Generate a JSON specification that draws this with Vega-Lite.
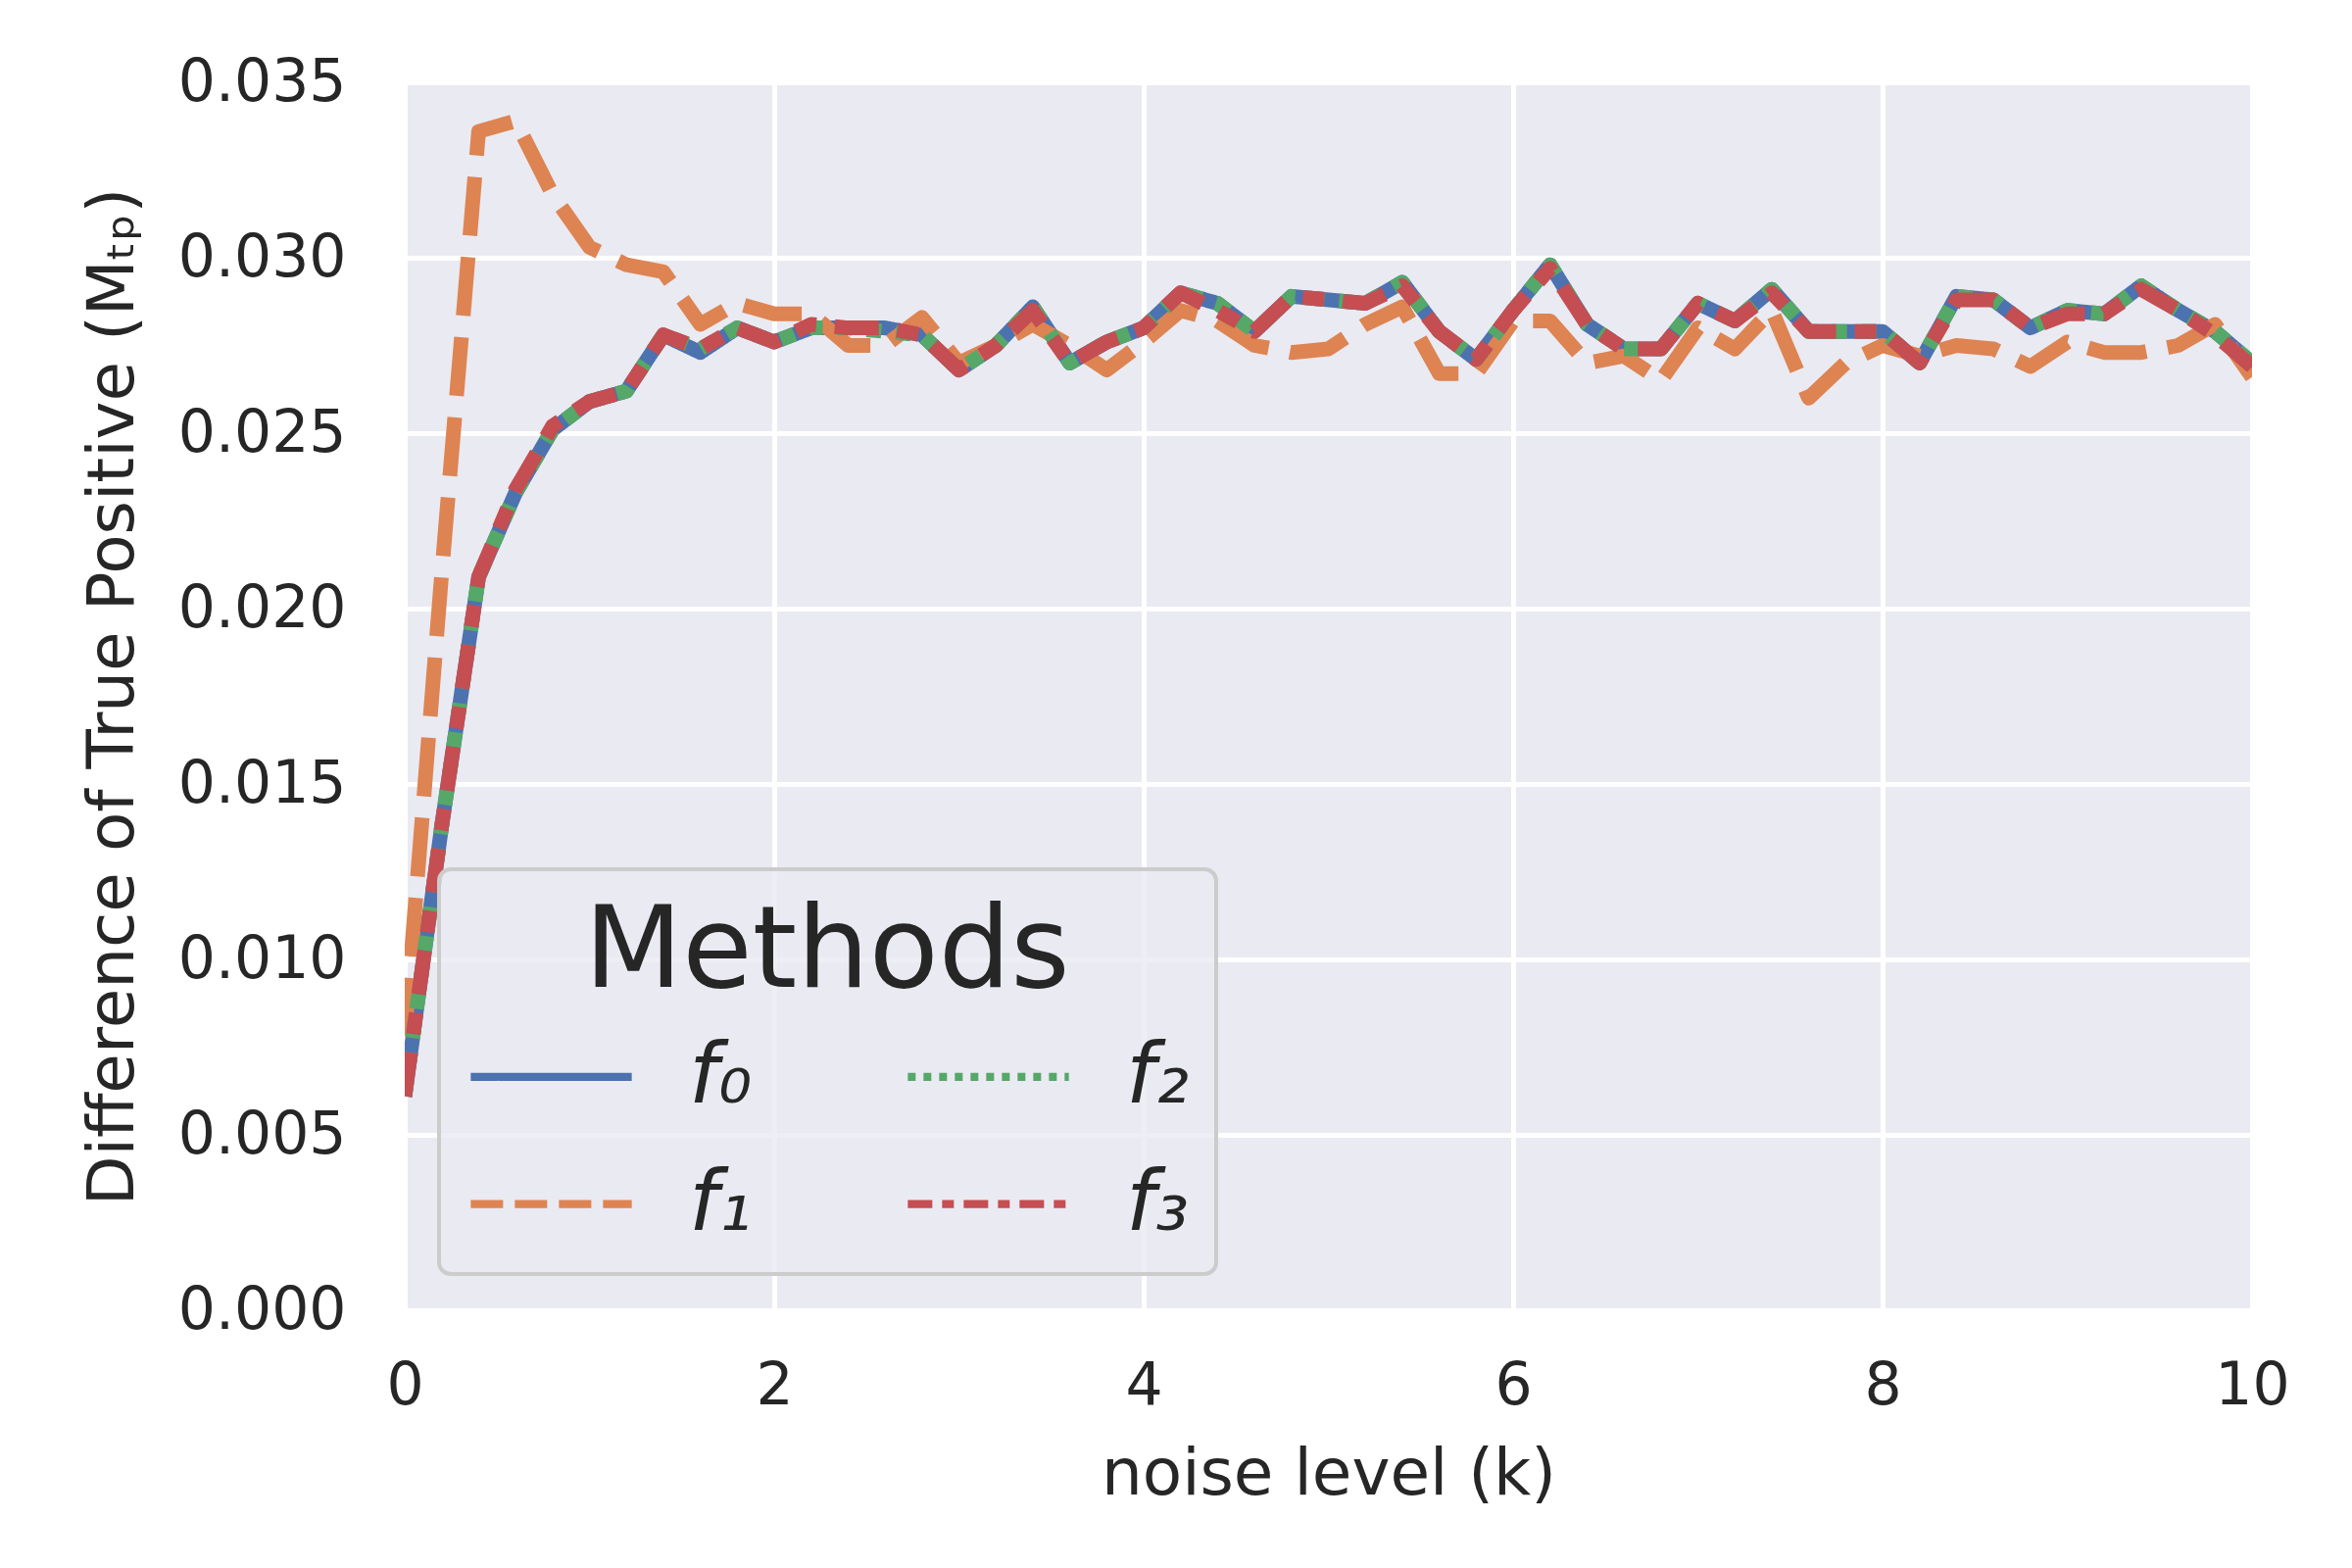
{
  "$schema": "https://vega.github.io/schema/vega-lite/v6.json",
  "width": 1885,
  "height": 1253,
  "autosize": {"type": "none"},
  "padding": {"left": 413, "top": 84, "right": 102, "bottom": 263},
  "background": "white",
  "data": {
    "values": [
      {"k": 0.0, "f0": 0.0061, "f1": 0.0078, "f2": 0.0061, "f3": 0.0061},
      {"k": 0.2, "f0": 0.0138, "f1": 0.0210, "f2": 0.0138, "f3": 0.0138},
      {"k": 0.4, "f0": 0.0209, "f1": 0.0336, "f2": 0.0209, "f3": 0.0209},
      {"k": 0.6, "f0": 0.0233, "f1": 0.0339, "f2": 0.0233, "f3": 0.0234},
      {"k": 0.8, "f0": 0.0251, "f1": 0.0318, "f2": 0.0251, "f3": 0.0252},
      {"k": 1.0, "f0": 0.0259, "f1": 0.0303, "f2": 0.0259, "f3": 0.0259},
      {"k": 1.2, "f0": 0.0262, "f1": 0.0298, "f2": 0.0262, "f3": 0.0262},
      {"k": 1.4, "f0": 0.0278, "f1": 0.0296, "f2": 0.0278, "f3": 0.0278},
      {"k": 1.6, "f0": 0.0273, "f1": 0.0281, "f2": 0.0274, "f3": 0.0274},
      {"k": 1.8, "f0": 0.0280, "f1": 0.0287, "f2": 0.0280, "f3": 0.0280},
      {"k": 2.0, "f0": 0.0276, "f1": 0.0284, "f2": 0.0276, "f3": 0.0276},
      {"k": 2.2, "f0": 0.0280, "f1": 0.0284, "f2": 0.0280, "f3": 0.0281},
      {"k": 2.4, "f0": 0.0280, "f1": 0.0275, "f2": 0.0280, "f3": 0.0280},
      {"k": 2.6, "f0": 0.0280, "f1": 0.0275, "f2": 0.0279, "f3": 0.0280},
      {"k": 2.8, "f0": 0.0278, "f1": 0.0283, "f2": 0.0278, "f3": 0.0278},
      {"k": 3.0, "f0": 0.0268, "f1": 0.0270, "f2": 0.0268, "f3": 0.0268},
      {"k": 3.2, "f0": 0.0275, "f1": 0.0275, "f2": 0.0275, "f3": 0.0275},
      {"k": 3.4, "f0": 0.0286, "f1": 0.0281, "f2": 0.0286, "f3": 0.0285},
      {"k": 3.6, "f0": 0.0270, "f1": 0.0275, "f2": 0.0270, "f3": 0.0270},
      {"k": 3.8, "f0": 0.0276, "f1": 0.0268, "f2": 0.0276, "f3": 0.0276},
      {"k": 4.0, "f0": 0.0280, "f1": 0.0276, "f2": 0.0280, "f3": 0.0280},
      {"k": 4.2, "f0": 0.0290, "f1": 0.0285, "f2": 0.0290, "f3": 0.0290},
      {"k": 4.4, "f0": 0.0287, "f1": 0.0282, "f2": 0.0287, "f3": 0.0285},
      {"k": 4.6, "f0": 0.0279, "f1": 0.0275, "f2": 0.0279, "f3": 0.0279},
      {"k": 4.8, "f0": 0.0289, "f1": 0.0273, "f2": 0.0289, "f3": 0.0289},
      {"k": 5.0, "f0": 0.0288, "f1": 0.0274, "f2": 0.0288, "f3": 0.0288},
      {"k": 5.2, "f0": 0.0287, "f1": 0.0281, "f2": 0.0287, "f3": 0.0287},
      {"k": 5.4, "f0": 0.0293, "f1": 0.0286, "f2": 0.0293, "f3": 0.0292},
      {"k": 5.6, "f0": 0.0279, "f1": 0.0267, "f2": 0.0279, "f3": 0.0279},
      {"k": 5.8, "f0": 0.0271, "f1": 0.0267, "f2": 0.0271, "f3": 0.0271},
      {"k": 6.0, "f0": 0.0285, "f1": 0.0282, "f2": 0.0285, "f3": 0.0285},
      {"k": 6.2, "f0": 0.0298, "f1": 0.0282, "f2": 0.0298, "f3": 0.0297},
      {"k": 6.4, "f0": 0.0281, "f1": 0.0270, "f2": 0.0281, "f3": 0.0281},
      {"k": 6.6, "f0": 0.0274, "f1": 0.0272, "f2": 0.0274, "f3": 0.0274},
      {"k": 6.8, "f0": 0.0274, "f1": 0.0265, "f2": 0.0274, "f3": 0.0274},
      {"k": 7.0, "f0": 0.0287, "f1": 0.0280, "f2": 0.0287, "f3": 0.0287},
      {"k": 7.2, "f0": 0.0282, "f1": 0.0274, "f2": 0.0282, "f3": 0.0282},
      {"k": 7.4, "f0": 0.0291, "f1": 0.0285, "f2": 0.0291, "f3": 0.0290},
      {"k": 7.6, "f0": 0.0279, "f1": 0.0260, "f2": 0.0279, "f3": 0.0279},
      {"k": 7.8, "f0": 0.0279, "f1": 0.0270, "f2": 0.0279, "f3": 0.0279},
      {"k": 8.0, "f0": 0.0279, "f1": 0.0275, "f2": 0.0279, "f3": 0.0279},
      {"k": 8.2, "f0": 0.0270, "f1": 0.0272, "f2": 0.0270, "f3": 0.0270},
      {"k": 8.4, "f0": 0.0289, "f1": 0.0275, "f2": 0.0289, "f3": 0.0288},
      {"k": 8.6, "f0": 0.0288, "f1": 0.0274, "f2": 0.0288, "f3": 0.0288},
      {"k": 8.8, "f0": 0.0280, "f1": 0.0269, "f2": 0.0280, "f3": 0.0280},
      {"k": 9.0, "f0": 0.0285, "f1": 0.0276, "f2": 0.0285, "f3": 0.0284},
      {"k": 9.2, "f0": 0.0284, "f1": 0.0273, "f2": 0.0284, "f3": 0.0284},
      {"k": 9.4, "f0": 0.0292, "f1": 0.0273, "f2": 0.0292, "f3": 0.0291},
      {"k": 9.6, "f0": 0.0285, "f1": 0.0275, "f2": 0.0285, "f3": 0.0285},
      {"k": 9.8, "f0": 0.0279, "f1": 0.0281, "f2": 0.0279, "f3": 0.0278},
      {"k": 10.0, "f0": 0.0270, "f1": 0.0266, "f2": 0.0270, "f3": 0.0269}
    ]
  },
  "transform": [
    {"fold": ["f0", "f1", "f2", "f3"], "as": ["method", "value"]}
  ],
  "mark": {
    "type": "line",
    "strokeWidth": 15,
    "strokeJoin": "round",
    "strokeCap": "butt",
    "clip": true
  },
  "encoding": {
    "x": {
      "field": "k",
      "type": "quantitative",
      "title": "noise level (k)",
      "scale": {"domain": [0, 10], "nice": false, "zero": false},
      "axis": {"values": [0, 2, 4, 6, 8, 10], "format": "d", "labelFlush": false}
    },
    "y": {
      "field": "value",
      "type": "quantitative",
      "title": "Difference of True Positive (Mₜₚ)",
      "scale": {"domain": [0, 0.035], "nice": false},
      "axis": {
        "values": [0, 0.005, 0.01, 0.015, 0.02, 0.025, 0.03, 0.035],
        "format": ".3f"
      }
    },
    "color": {
      "field": "method",
      "type": "nominal",
      "title": "Methods",
      "scale": {
        "domain": ["f0", "f1", "f2", "f3"],
        "range": ["#4C72B0", "#DD8452", "#55A868", "#C44E52"]
      },
      "legend": {
        "labelExpr": "{'f0': 'f₀', 'f1': 'f₁', 'f2': 'f₂', 'f3': 'f₃'}[datum.label]",
        "symbolDash": {"expr": "datum.value == 'f1' ? [33, 12] : datum.value == 'f2' ? [8, 8] : datum.value == 'f3' ? [25, 10, 12, 10] : [1, 0]"}
      }
    },
    "strokeDash": {
      "condition": [
        {"test": "datum.method === 'f1'", "value": [60, 22]},
        {"test": "datum.method === 'f2'", "value": [15, 15]},
        {"test": "datum.method === 'f3'", "value": [45, 19, 22, 19]}
      ],
      "value": [1, 0]
    }
  },
  "config": {
    "font": "DejaVu Sans",
    "view": {"fill": "#EAEAF2", "stroke": null},
    "axis": {
      "domain": false,
      "ticks": false,
      "grid": true,
      "gridColor": "white",
      "gridWidth": 5,
      "labelFont": "DejaVu Sans",
      "labelFontSize": 60,
      "labelColor": "#262626",
      "labelOverlap": false,
      "titleFont": "DejaVu Sans",
      "titleFontSize": 66,
      "titleFontWeight": "normal",
      "titleColor": "#262626"
    },
    "axisX": {"labelPadding": 48, "titlePadding": 28},
    "axisY": {"labelPadding": 60, "titlePadding": 64},
    "legend": {
      "orient": "none",
      "legendX": 35,
      "legendY": 803,
      "columns": 2,
      "symbolType": "stroke",
      "symbolSize": 27000,
      "symbolStrokeWidth": 8.25,
      "labelFont": "DejaVu Sans",
      "labelFontSize": 85,
      "labelFontStyle": "italic",
      "labelColor": "#262626",
      "labelOffset": 54,
      "columnPadding": 142,
      "rowPadding": -29,
      "padding": 28,
      "titleFont": "DejaVu Sans",
      "titleFontSize": 116,
      "titleFontWeight": "normal",
      "titleColor": "#262626",
      "titleAnchor": "middle",
      "titleLimit": 2000,
      "titlePadding": -19,
      "fillColor": "rgba(234,234,242,0.8)",
      "strokeColor": "#cccccc",
      "strokeWidth": 4,
      "cornerRadius": 12
    }
  }
}
